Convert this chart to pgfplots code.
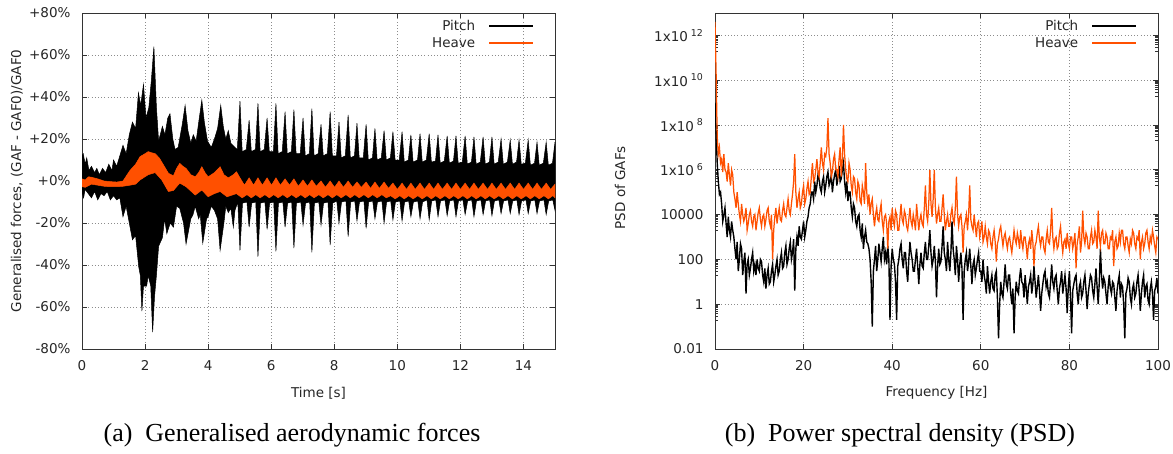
\documentclass[border=0pt]{standalone}
\usepackage{fontspec}
\setmainfont{DejaVu Sans}
\newfontfamily\capfont{Liberation Serif}
\usepackage{pgfplots}
\usepackage{pgfplotstable}
\pgfplotsset{compat=1.18}
\definecolor{heave}{RGB}{255,80,0}
\newcommand{\pf}{\fontsize{13.5}{16}\selectfont}

\pgfplotstableread{
f P H
0 1e9 4e12
0.25 5e7 2e10
0.5 2e6 3e7
0.75 3e5 5e6
1 8e4 1e7
1.25 1e5 2e6
1.5 3e4 3e6
1.75 5e3 8e5
2 1e4 5e6
2.25 2e4 1e6
2.5 4e3 8e5
2.75 1e3 3e5
3 8e3 2e6
3.25 2e3 6e5
3.5 1e3 2e5
3.75 5e3 1e6
4 2e3 6e5
4.25 1e3 1e5
4.5 3e2 5e4
4.75 1e2 2e4
5 6e2 1e5
5.25 3e1 3e4
5.5 1e2 1e4
5.75 5e2 5e3
6 3e2 3e4
6.25 2e1 1e4
6.5 8e1 5e3
6.75 2e2 8e3
7 3e0 2e4
7.25 6e1 2e3
7.5 1e2 4e3
7.75 2e1 1e4
8 4e1 1.5e4
8.25 1e2 5e3
8.5 2e2 3e3
8.75 3e1 8e3
9 6e1 1e4
9.25 2e1 2e3
9.5 1e2 5e3
9.75 4e1 1.2e4
10 3e1 2e4
10.25 1e2 6e3
10.5 8e1 3e3
10.75 2e1 8e3
11 1e1 1e4
11.25 4e1 3e3
11.5 5e0 6e3
11.75 2e1 1.5e4
12 4e1 2e4
12.25 8e0 5e3
12.5 1e1 3e3
12.75 3e1 1e4
13 6e1 1e2
13.25 1e1 2e3
13.5 2e1 8e3
13.75 5e1 2e4
14 1e2 4e3
14.25 2e1 1e4
14.5 3e1 2e4
14.75 1e2 6e3
15 2e2 5e3
15.25 4e1 1.5e4
15.5 5e1 3e4
15.75 2e2 1e4
16 4e2 8e3
16.25 6e1 2e4
16.5 1e2 5e4
16.75 3e2 1.5e4
17 6e2 1e4
17.25 1e2 3e4
17.5 2e2 8e4
17.75 8e2 3e5
18 4e0 5e6
18.25 3e2 1e5
18.5 1e3 2e4
18.75 4e2 5e4
19 3e3 1e5
19.25 1e3 2e4
19.5 8e2 3e4
19.75 2e3 1e5
20 5e3 2e5
20.25 1e3 3e4
20.5 2e3 5e4
20.75 5e3 1.5e5
21 8e3 3e5
21.25 2e4 8e4
21.5 3e4 1e5
21.75 1e5 5e5
22 1e5 2e6
22.25 5e4 3e5
22.5 3e5 4e5
22.75 1e5 1e6
23 2e5 3e6
23.25 6e5 8e5
23.5 4e5 5e5
23.75 1.5e5 2e6
24 1e5 1e7
24.25 3e5 2e6
24.5 5e5 1e6
24.75 1e5 5e6
25 2e5 4e6
25.25 5e5 1e7
25.5 8e5 2e8
25.75 2e5 5e6
26 3e5 2e6
26.25 6e5 5e5
26.5 1e5 8e5
26.75 3e5 3e6
27 6e5 5e6
27.25 1e6 1e6
27.5 2e5 1e6
27.75 5e5 5e5
28 1.5e6 3e6
28.25 3e5 1e7
28.5 4e5 5e5
28.75 1e6 3e6
29 2e6 1e8
29.25 3e5 5e6
29.5 1e5 1e6
29.75 3e5 4e5
30 4e4 3e5
30.25 1e5 2e6
30.5 1e5 1e6
30.75 2e4 2e5
31 8e3 1e5
31.25 3e4 5e5
31.5 2e4 4e5
31.75 5e3 1e5
32 3e3 5e4
32.25 8e3 3e5
32.5 1e4 2e5
32.75 2e3 4e4
33 1e3 3e4
33.25 4e3 2e5
33.5 3e2 1e5
33.75 1e3 3e4
34 2e3 2e6
34.25 6e2 1e5
34.5 5e2 3e4
34.75 3e2 8e4
35 1e2 1e4
35.25 1e1 3e4
35.5 1e-1 5e4
35.75 3e1 1e4
36 1e2 3e3
36.25 4e2 1e4
36.5 3e1 2e4
36.75 1e2 6e3
37 5e2 5e3
37.25 2e2 1.5e4
37.5 8e1 3e4
37.75 3e2 5e3
38 1e3 2e3
38.25 1e2 8e3
38.5 2e2 1e4
38.75 6e1 4e3
39 4e2 3e2
39.25 1e2 5e3
39.5 2e-1 8e3
39.75 5e1 2e3
40 3e2 2e4
40.25 1e2 5e3
40.5 6e1 3e3
40.75 1e1 1.5e4
41 2e-1 1e4
41.25 5e1 2e3
41.5 1e2 2e3
41.75 3e2 8e3
42 5e2 3e4
42.25 1e2 6e3
42.5 4e1 4e3
42.75 2e2 1.5e4
43 2e2 1e4
43.25 3e1 3e3
43.5 1e1 2e3
43.75 1e2 6e3
44 6e2 2e4
44.25 2e2 5e3
44.5 1e2 3e3
44.75 3e1 1e4
45 3e1 5e3
45.25 1e2 2e3
45.5 3e2 3e4
45.75 5e1 8e3
46 8e0 2e3
46.25 6e1 6e3
46.5 2e2 1e4
46.75 5e1 4e3
47 4e1 3e3
47.25 2e2 2e4
47.5 6e2 2e5
47.75 1e2 1e4
48 1e2 5e3
48.25 4e2 3e4
48.5 2e3 1e6
48.75 2e2 3e4
49 5e1 8e3
49.25 1e2 5e4
49.5 4e2 1e6
49.75 8e1 2e4
50 2e0 4e3
50.25 5e1 1e4
50.5 3e2 2e4
50.75 6e1 5e3
51 8e1 5e3
51.25 4e2 2e4
51.5 3e3 8e4
51.75 2e2 1e4
52 1e2 2e3
52.25 3e1 5e3
52.5 6e2 1e4
52.75 1e2 3e3
53 3e1 3e3
53.25 2e2 1e4
53.5 5e3 2e4
53.75 3e2 6e3
54 1e2 4e3
54.25 2e1 2e4
54.5 4e2 5e5
54.75 1e2 1e4
55 1e1 3e3
55.25 6e1 8e3
55.5 2e2 1e4
55.75 4e1 3e3
56 2e-1 2e2
56.25 3e1 3e3
56.5 1e2 5e3
56.75 2e2 1e4
57 3e1 2e3
57.25 8e1 1e4
57.5 3e2 2e5
57.75 5e1 6e3
58 8e0 3e3
58.25 6e1 2e3
58.5 1e2 1e4
58.75 2e1 3e3
59 4e1 1e3
59.25 1e2 4e3
59.5 2e2 5e3
59.75 3e1 1e3
60 3e1 2e3
60.25 1e1 5e3
60.5 1e2 6e2
60.75 2e1 1e3
61 1e1 3e3
61.25 3e0 1e3
61.5 5e1 5e2
61.75 1e1 2e3
62 3e0 1.5e3
62.25 1e1 5e2
62.5 2e1 3e2
62.75 5e0 1e3
63 4e0 2e3
63.25 2e1 6e2
63.5 3e1 8e1
63.75 2e0 5e2
64 3e-2 8e2
64.25 1e0 2e3
64.5 1e1 3e3
64.75 3e0 1e3
65 2e0 4e2
65.25 1e1 1e3
65.5 6e1 1.5e3
65.75 8e0 6e2
66 5e0 3e2
66.25 2e1 8e2
66.5 2e1 1e3
66.75 3e0 4e2
67 1e0 2e2
67.25 5e0 6e2
67.5 5e-2 2e3
67.75 2e0 8e2
68 1e1 5e2
68.25 4e0 1.5e3
68.5 3e0 8e2
68.75 1.5e1 3e2
69 4e1 2e3
69.25 1e1 6e2
69.5 8e0 3e2
69.75 2e0 1e3
70 2e1 1e3
70.25 5e0 4e2
70.5 1e0 1e2
70.75 6e0 5e2
71 1e1 8e2
71.25 2e1 3e2
71.5 3e0 2e3
71.75 8e0 6e2
72 5e1 5e1
72.25 1e1 4e2
72.5 2e0 6e2
72.75 6e0 1.5e3
73 2e1 3e3
73.25 4e0 8e2
73.5 5e-1 4e2
73.75 3e0 1e3
74 8e0 1e3
74.25 2e1 3e2
74.5 3e1 2e2
74.75 6e0 8e2
75 1e1 2e3
75.25 3e0 6e2
75.5 2e0 5e2
75.75 1e1 2e3
76 6e1 2e4
76.25 1e1 1e3
76.5 5e0 3e2
76.75 1.5e1 8e2
77 2e1 1e3
77.25 4e0 3e2
77.5 1e0 4e2
77.75 5e0 1.5e3
78 1e1 3e3
78.25 3e1 6e2
78.5 3e0 2e2
78.75 8e0 6e2
79 2e1 8e2
79.25 5e0 3e2
79.5 4e-1 1.5e3
79.75 6e0 5e2
80 3e1 3e2
80.25 2e0 1e3
80.5 5e-2 1e3
80.75 4e0 3e2
81 8e0 6e2
81.25 1.5e1 1.5e3
81.5 2e1 4e1
81.75 3e0 5e2
82 1e0 1e3
82.25 6e0 3e3
82.5 1e1 2e2
82.75 2e0 6e2
83 3e0 1.5e4
83.25 1e1 1e3
83.5 2e1 5e2
83.75 4e0 1.5e3
84 6e-1 1e3
84.25 3e0 3e2
84.5 8e0 3e2
84.75 2e1 1e3
85 1.5e1 2e3
85.25 4e0 5e2
85.5 2e0 6e2
85.75 8e0 2e3
86 4e1 1e3
86.25 6e0 3e2
86.5 1e0 1.5e4
86.75 1e1 1e3
87 3e2 4e2
87.25 2e1 1.5e3
87.5 5e0 2e3
87.75 1.5e1 5e2
88 1e1 5e2
88.25 3e0 1.5e3
88.5 1e0 1e3
88.75 6e0 3e2
89 2e1 3e2
89.25 5e0 1e3
89.5 3e0 8e2
89.75 1e1 2e3
90 8e0 5e1
90.25 2e0 6e2
90.5 5e-1 1e3
90.75 4e0 3e2
91 1e1 4e2
91.25 2e1 1.5e3
91.5 2e0 6e2
91.75 8e0 2e3
92 6e0 2e3
92.25 1e0 5e2
92.5 3e-2 3e2
92.75 3e0 1e3
93 5e0 1e3
93.25 1.5e1 4e2
93.5 1e1 2e2
93.75 2e0 8e2
94 1e0 5e2
94.25 5e0 2e3
94.5 8e0 1.5e3
94.75 2e0 5e2
95 3e0 3e2
95.25 1e1 1e3
95.5 2e1 8e2
95.75 4e0 2e3
96 5e-1 1e2
96.25 3e0 6e2
96.5 1e1 1e3
96.75 2e1 3e2
97 2e0 5e2
97.25 6e0 1.5e3
97.5 8e0 2e3
97.75 1.5e0 6e2
98 1e0 3e2
98.25 5e0 1e3
98.5 1e1 6e2
98.75 3e0 2e3
99 2e-1 1e3
99.25 4e0 4e2
99.5 6e0 2e2
99.75 1.5e1 1e3
100 3e0 8e2
}\psd

\pgfplotsset{
  gnu/.style={
    scale only axis,
    height=336pt,
    axis line style={draw=black!80, line width=0.8pt},
    tick align=inside,
    tick pos=both,
    major tick length=5pt,
    minor tick length=3pt,
    every tick/.style={black!80, line width=0.7pt},
    grid=major,
    major grid style={black!45, line width=0.7pt, dash pattern=on 1pt off 2.2pt},
    ticklabel style={font=\pf, text=black!85},
    xticklabel style={yshift=-8pt},
    yticklabel style={xshift=-8pt},
    label style={font=\pf, text=black!85},
    /pgf/number format/assume math mode=true,
    legend style={draw=none, fill=none, font=\pf, text=black!85,
      at={(1,1)}, anchor=north east, xshift=-18pt, yshift=-3pt,
      row sep=1.5pt},
    legend plot pos=right,
    legend cell align=right,
    legend image code/.code={\path (0pt,0pt); \draw[##1] (11pt,0pt) -- (55pt,0pt);},
  }
}

\begin{document}
\begin{tikzpicture}

\begin{axis}[gnu,
  at={(82pt,104pt)}, anchor=south west,
  width=473pt,
  xmin=0, xmax=15, ymin=-80, ymax=80,
  xtick={0,2,...,14},
  ytick={-80,-60,...,80},
  yticklabels={-80\%,-60\%,-40\%,-20\%,+0\%,+20\%,+40\%,+60\%,+80\%},
  xlabel={Time [s]},
  ylabel={Generalised forces, (GAF - GAF0)/GAF0},
  xlabel style={at={(axis description cs:0.5,-0.131)}, anchor=center},
  ylabel style={at={(axis description cs:-0.1374,0.5)}, anchor=center},
]
\addlegendimage{black, line width=1.6pt}
\addlegendentry{Pitch}
\addlegendimage{heave, line width=1.6pt}
\addlegendentry{Heave}

% Pitch: envelope of the fast oscillation
\addplot[draw=black, fill=black, line width=0.5pt, forget plot] coordinates {
(0,12)(0.04,13)(0.1,8)(0.15,11)(0.22,5)(0.3,7)(0.4,4)(0.47,6)(0.55,3)(0.65,6)(0.75,4)(0.85,8)(0.95,5)(1.0,10)(1.1,7)(1.2,12)(1.3,17)(1.4,13)(1.5,22)(1.6,28)(1.7,25)(1.79,42)(1.86,36)(1.95,46)(2.03,30)(2.12,35)(2.2,48)(2.28,64)(2.36,35)(2.43,19)(2.55,26)(2.63,22)(2.72,30)(2.79,32)(2.88,20)(2.95,15)(3.05,16)(3.18,27)(3.27,36)(3.36,24)(3.45,18)(3.53,22)(3.62,19)(3.72,30)(3.8,38.5)(3.88,28)(3.98,19)(4.1,16)(4.2,20)(4.3,25)(4.4,36)(4.48,26)(4.56,20)(4.64,24)(4.72,18)(4.85,16)
(4.925,15)(5.01,38)(5.08,14)
(5.21,15)(5.30,29)(5.37,14)
(5.50,15)(5.58,37)(5.65,14)
(5.78,15)(5.87,30)(5.94,14)
(6.07,14)(6.15,37)(6.22,13)
(6.35,14)(6.44,33)(6.51,13)
(6.64,14)(6.72,34)(6.79,13)
(6.92,13)(7.01,30)(7.08,12)
(7.21,13)(7.29,34.5)(7.36,12)
(7.49,13)(7.58,27)(7.65,12)
(7.78,13)(7.87,33)(7.94,12)
(8.07,12)(8.15,28)(8.22,11)
(8.35,12)(8.44,31.5)(8.51,11)
(8.64,12)(8.72,27.5)(8.79,11)
(8.92,11)(9.01,27)(9.08,10)
(9.21,11)(9.29,25)(9.36,10)
(9.49,11)(9.58,24)(9.65,10)
(9.78,11)(9.86,23.5)(9.93,10)
(10.06,10)(10.15,23.5)(10.22,9)
(10.35,10)(10.43,22)(10.50,9)
(10.64,10)(10.72,22.5)(10.79,9)
(10.92,10)(11.01,22.5)(11.08,9)
(11.21,9.5)(11.29,22)(11.36,8.5)
(11.49,9.5)(11.58,21.5)(11.65,8.5)
(11.78,9.5)(11.86,21.5)(11.93,8.5)
(12.06,9)(12.15,21.5)(12.22,8)
(12.35,9)(12.43,21)(12.50,8)
(12.63,9)(12.72,21)(12.79,8)
(12.92,9)(13.00,21)(13.07,8)
(13.20,9)(13.29,20)(13.36,8)
(13.49,9)(13.58,19.5)(13.65,8)
(13.78,9)(13.86,19.5)(13.93,8)
(14.06,8.5)(14.15,19.5)(14.22,7.5)
(14.35,8.5)(14.43,18.5)(14.50,7.5)
(14.63,8.5)(14.72,18.5)(14.79,7.5)
(14.92,8.5)(15.00,18.5)
(15.00,-14)(14.93,-9)(14.80,-9.5)(14.72,-16)(14.65,-9)(14.51,-9.5)(14.43,-15.5)(14.36,-9)(14.23,-9.5)(14.15,-15.5)(14.08,-9)(13.94,-9.5)(13.86,-16)(13.79,-9)(13.66,-9.5)(13.58,-15.5)(13.51,-9)(13.37,-9.5)(13.29,-15.5)(13.22,-9)(13.08,-9.5)(13.00,-16.5)(12.93,-9)(12.80,-9.5)(12.72,-16)(12.65,-9)(12.51,-9.5)(12.43,-17)(12.36,-9)(12.23,-9.5)(12.15,-16)(12.08,-9)(11.94,-9.5)(11.86,-17)(11.79,-9)(11.66,-9.5)(11.58,-16.5)(11.51,-9)(11.37,-9.5)(11.29,-17)(11.22,-9)(11.09,-9.5)(11.01,-18.5)(10.94,-9)(10.80,-10)(10.72,-18)(10.65,-9.5)(10.51,-10)(10.43,-17)(10.36,-9.5)(10.23,-10)(10.15,-19)(10.08,-9.5)(9.94,-10)(9.86,-18.5)(9.79,-9.5)(9.66,-10)(9.58,-20)(9.51,-9.5)(9.37,-10)(9.29,-18)(9.22,-9.5)(9.09,-10)(9.01,-22.5)(8.94,-9.5)(8.80,-10)(8.72,-19)(8.65,-9.5)(8.52,-10)(8.44,-26.5)(8.37,-9.5)(8.23,-10)(8.15,-20)(8.08,-9.5)(7.95,-10.5)(7.87,-30.5)(7.80,-10)(7.66,-10.5)(7.58,-21)(7.51,-10)(7.37,-10.5)(7.29,-34)(7.22,-10)(7.09,-10.5)(7.01,-21)(6.94,-10)(6.80,-10.5)(6.72,-32)(6.65,-10)(6.52,-10.5)(6.44,-22)(6.37,-10)(6.23,-10.5)(6.15,-33.5)(6.08,-10)(5.95,-10.5)(5.87,-23)(5.80,-10)(5.66,-10.5)(5.58,-36)(5.51,-10)(5.38,-10.5)(5.30,-22)(5.23,-10)(5.09,-10.5)(5.01,-33)(4.94,-10)
(4.85,-14)(4.8,-22)(4.72,-13)(4.64,-15)(4.56,-12)(4.5,-20)(4.38,-33)(4.3,-18)(4.2,-14)(4.1,-12)(4.0,-17)(3.95,-18)(3.83,-29.6)(3.75,-16)(3.7,-18)(3.59,-12)(3.52,-16)(3.45,-18)(3.3,-30)(3.22,-20)(3.1,-13)(3.0,-12)(2.9,-22)(2.8,-20)(2.69,-25)(2.62,-18)(2.55,-27)(2.43,-31)(2.36,-45)(2.3,-55)(2.24,-72)(2.18,-50)(2.1,-45)(2.05,-50)(1.95,-50)(1.9,-62)(1.85,-45)(1.8,-41)(1.7,-26)(1.6,-28)(1.5,-20)(1.4,-12)(1.3,-17)(1.2,-8)(1.1,-9)(1.0,-7)(0.9,-9)(0.8,-5)(0.7,-7)(0.6,-6)(0.5,-9)(0.4,-5)(0.3,-8)(0.2,-6)(0.1,-4)(0.05,-8)(0,-5)
};

% Heave: envelope of the fast oscillation
\addplot[draw=heave, fill=heave, line width=0.5pt, forget plot] coordinates {
(0,1)(0.1,0.5)(0.2,2)(0.3,1.8)(0.5,1)(0.7,0)(0.9,-0.3)(1.1,-0.5)(1.3,0)(1.52,5)(1.7,8)(1.84,11.6)(2.0,13)(2.1,14)(2.2,13.5)(2.32,13)(2.45,11)(2.53,9)(2.65,6)(2.74,3.7)(2.9,2.5)(3.0,6)(3.1,8.4)(3.2,7)(3.3,6)(3.45,3)(3.59,2)(3.7,4)(3.8,6.8)(3.9,4)(4.0,2)(4.2,4)(4.38,6.8)(4.5,3)(4.64,1.5)(4.8,3)(4.9,4.4)
(5.01,1.5)(5.15,-2)(5.30,1.5)(5.44,-2)(5.58,1.5)(5.72,-2)(5.87,1.5)(6.01,-2)(6.15,1.5)(6.29,-2)(6.44,1)(6.58,-2)(6.72,1)(6.86,-2.5)(7.01,0.5)(7.15,-2.5)(7.29,0.5)(7.43,-2.5)(7.58,0)(7.72,-3)(7.87,0)(8.01,-3)(8.15,0)(8.29,-3)(8.44,0)(8.58,-3)(8.72,-0.5)(8.86,-3)(9.01,-0.5)(9.15,-3.5)(9.29,-0.5)(9.43,-3.5)(9.58,-0.5)(9.72,-3.5)(9.86,-1)(10.00,-4)(10.15,-1)(10.29,-4)(10.43,-1)(10.57,-4)(10.72,-1)(10.86,-4)(11.01,-1)(11.15,-4)(11.29,-1)(11.43,-4)(11.58,-1)(11.72,-4)(11.86,-1)(12.00,-4)(12.15,-1)(12.29,-4)(12.43,-1)(12.57,-4)(12.72,-1)(12.86,-4)(13.00,-1)(13.14,-4)(13.29,-1)(13.43,-4)(13.58,-1)(13.72,-4)(13.86,-1)(14.00,-4)(14.15,-1)(14.29,-4)(14.43,-1)(14.57,-4)(14.72,-1)(14.86,-4)(15.00,-1.5)
(15.0,-8)(14.93,-7)(14.79,-8.5)(14.65,-7)(14.50,-8.5)(14.36,-7)(14.22,-8.5)(14.08,-7)(13.93,-8.5)(13.79,-7)(13.65,-8.5)(13.51,-7)(13.36,-8.5)(13.22,-7)(13.07,-8.5)(12.93,-7)(12.79,-8.5)(12.65,-7)(12.50,-8.5)(12.36,-7)(12.22,-8.5)(12.08,-7)(11.93,-8.5)(11.79,-7)(11.65,-8.5)(11.51,-7)(11.36,-8.5)(11.22,-7)(11.08,-8.5)(10.94,-7)(10.79,-8.5)(10.65,-7)(10.50,-8.5)(10.36,-7)(10.22,-8.5)(10.08,-7)(9.93,-8.5)(9.79,-7)(9.65,-8)(9.51,-6.5)(9.36,-8)(9.22,-6.5)(9.08,-8)(8.94,-6.5)(8.79,-8)(8.65,-6.5)(8.51,-8)(8.37,-6.5)(8.22,-8)(8.08,-6.5)(7.94,-8)(7.80,-6.5)(7.65,-8)(7.51,-6.5)(7.36,-8)(7.22,-6.5)(7.08,-8)(6.94,-6.5)(6.79,-8)(6.65,-6.5)(6.51,-8)(6.37,-6.5)(6.22,-8)(6.08,-6.5)(5.94,-8)(5.80,-6.5)(5.65,-8)(5.51,-6.5)(5.37,-8)(5.23,-6.5)(5.08,-8)(4.94,-6.5)
(4.9,-6)(4.6,-7.5)(4.38,-5)(4.2,-6)(4.0,-7.5)(3.8,-4.3)(3.59,-6.7)(3.3,-2.7)(3.1,-1)(2.9,-4.5)(2.74,-5)(2.53,0.5)(2.32,4)(2.1,3)(1.84,0.5)(1.7,-1.5)(1.52,-2)(1.3,-2.5)(1.1,-2.7)(0.9,-2.7)(0.7,-2.5)(0.5,-2)(0.3,-1.5)(0.1,-3)(0,-2.7)
};
\end{axis}

\begin{axis}[gnu,
  at={(715pt,104pt)}, anchor=south west,
  width=443pt,
  xmin=0, xmax=100, ymin=1e-2, ymax=1e13,
  ymode=log,
  xtick={0,20,...,100},
  ytick={1e-2,1,1e2,1e4,1e6,1e8,1e10,1e12},
  yticklabels={0.01,1,100,10000,
    1x10\hspace{3pt}\textsuperscript{6},
    1x10\hspace{3pt}\textsuperscript{8},
    1x10\hspace{3pt}\textsuperscript{10},
    1x10\hspace{3pt}\textsuperscript{12}},
  minor ytick={2e-1,3e-1,4e-1,5e-1,6e-1,7e-1,8e-1,9e-1,
    2e1,3e1,4e1,5e1,6e1,7e1,8e1,9e1,
    2e3,3e3,4e3,5e3,6e3,7e3,8e3,9e3,
    2e5,3e5,4e5,5e5,6e5,7e5,8e5,9e5,
    2e7,3e7,4e7,5e7,6e7,7e7,8e7,9e7,
    2e9,3e9,4e9,5e9,6e9,7e9,8e9,9e9,
    2e11,3e11,4e11,5e11,6e11,7e11,8e11,9e11},
  xlabel={Frequency [Hz]},
  ylabel={PSD of GAFs},
  xlabel style={at={(axis description cs:0.5,-0.131)}, anchor=center},
  ylabel style={at={(axis description cs:-0.2144,0.48)}, anchor=center},
]
\addlegendimage{black, line width=1.6pt}
\addlegendentry{Pitch}
\addlegendimage{heave, line width=1.6pt}
\addlegendentry{Heave}
\addplot[black, line width=1.4pt, forget plot] table[x=f, y=P] {\psd};
\addplot[heave, line width=1.25pt, forget plot] table[x=f, y=H] {\psd};
\end{axis}

\node[font=\capfont\fontsize{26}{30}\selectfont, anchor=center] at (292pt,18pt) {(a)~ Generalised aerodynamic forces};
\node[font=\capfont\fontsize{26}{30}\selectfont, anchor=center] at (900pt,18pt) {(b)~ Power spectral density (PSD)};

\pgfresetboundingbox
\path (0,0) rectangle (1173pt,453pt);
\end{tikzpicture}
\end{document}
